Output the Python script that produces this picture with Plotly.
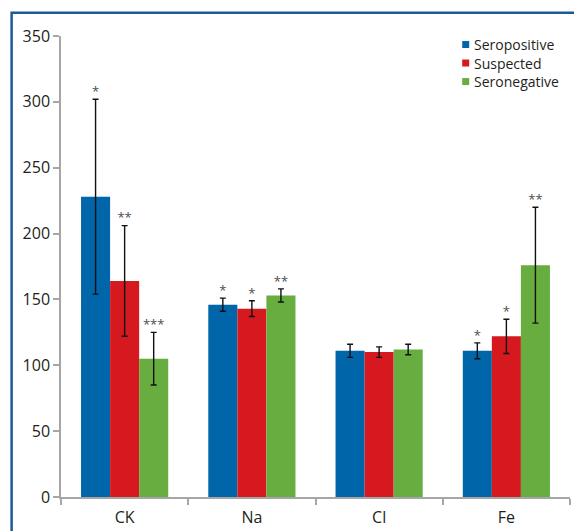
import plotly.graph_objects as go

categories = ["CK", "Na", "Cl", "Fe"]
series_names = ["Seropositive", "Suspected", "Seronegative"]
colors = ["#0065a9", "#d6181f", "#67ad40"]

seropositive = [228, 146, 111, 111]
suspected = [164, 143, 110, 122]
seronegative = [105, 153, 112, 176]

seropositive_err = [74, 5, 5, 6]
suspected_err = [42, 6, 4, 13]
seronegative_err = [20, 5, 4, 44]

seropositive_sig = ["*", "*", "", "*"]
suspected_sig = ["**", "*", "", "*"]
seronegative_sig = ["***", "**", "", "**"]

values = [seropositive, suspected, seronegative]
errors = [seropositive_err, suspected_err, seronegative_err]
sigs = [seropositive_sig, suspected_sig, seronegative_sig]

BARGAP = 0.315
bar_w = (1 - BARGAP) / len(series_names)
xpos = list(range(len(categories)))

fig = go.Figure()
for k, name in enumerate(series_names):
    fig.add_trace(go.Bar(
        x=xpos, y=values[k], name=name, marker_color=colors[k],
        marker_line_width=0,
        error_y=dict(type="data", array=errors[k], color="#111111",
                     thickness=1.4, width=3),
        showlegend=False,
    ))
for k, name in enumerate(series_names):
    off = (k - (len(series_names) - 1) / 2) * bar_w
    fig.add_trace(go.Scatter(
        x=[i + off for i in xpos],
        y=[v + e for v, e in zip(values[k], errors[k])],
        mode="text", text=sigs[k], textposition="top center",
        textfont=dict(size=13, color="#4d4d4d", family="Open Sans"),
        showlegend=False, hoverinfo="skip",
    ))

# custom legend
shapes = []
annotations = []
leg_y = [0.9815, 0.9414, 0.9012]
for k, name in enumerate(series_names):
    shapes.append(dict(type="rect", xref="paper", yref="paper",
                       xsizemode="pixel", ysizemode="pixel",
                       xanchor=0.7951, yanchor=leg_y[k],
                       x0=-3.5, x1=3.5, y0=-3.5, y1=3.5,
                       fillcolor=colors[k], line_width=0))
    annotations.append(dict(xref="paper", yref="paper", x=0.8074, y=leg_y[k],
                            xanchor="left", yanchor="middle", showarrow=False,
                            text=name, font=dict(size=14, color="#231f20",
                                                 family="Open Sans")))
# outer frame
shapes.append(dict(type="rect", xref="paper", yref="paper",
                   x0=-0.097, x1=1.2, y0=-0.3, y1=1.0505,
                   line=dict(color="#1c5a96", width=2.5), layer="above"))

fig.update_layout(
    width=574, height=531,
    margin=dict(l=61, r=4, t=36, b=34),
    paper_bgcolor="white", plot_bgcolor="white",
    barmode="group", bargap=BARGAP, bargroupgap=0,
    font=dict(family="Open Sans", size=16, color="#231f20"),
    shapes=shapes, annotations=annotations,
    xaxis=dict(range=[-0.5, 3.5], tickvals=xpos, ticktext=categories,
               ticks="", showline=True, linecolor="#a6a6a6", linewidth=1.5,
               showgrid=False, zeroline=False, ticklabelstandoff=5,
               tickfont=dict(size=16, color="#231f20"),
               minor=dict(tick0=0.5, dtick=1, ticks="outside", ticklen=6,
                          tickcolor="#a6a6a6", tickwidth=1.5, showgrid=False)),
    yaxis=dict(range=[0, 350], dtick=50, ticks="outside", ticklen=6,
               tickcolor="#a6a6a6", tickwidth=1.5, showline=True,
               linecolor="#a6a6a6", linewidth=1.5, showgrid=False,
               zeroline=False, tickfont=dict(size=16, color="#231f20")),
)

fig.write_html("out.html", config={"displayModeBar": False},
               post_script="document.body.style.margin='0';document.body.style.overflow='hidden';")
